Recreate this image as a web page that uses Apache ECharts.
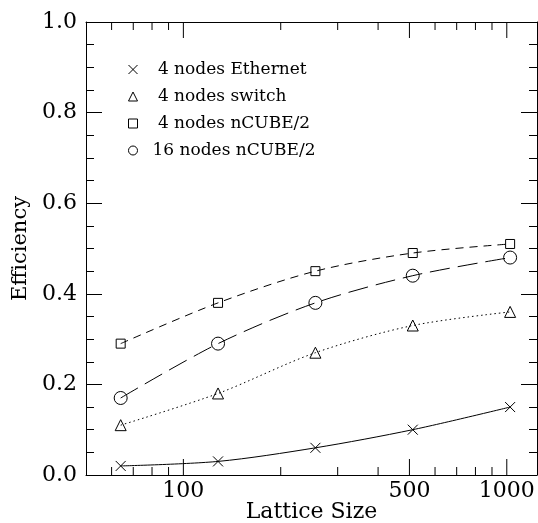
<!DOCTYPE html>
<html>
<head>
<meta charset="utf-8">
<script src="https://cdn.jsdelivr.net/npm/echarts@6/dist/echarts.min.js"></script>
<style>
  html, body { margin: 0; padding: 0; background: #fff; }
  #chart { width: 538px; height: 523px; }
</style>
</head>
<body>
<div id="chart"></div>
<script>
// lattice sizes (x, log scale)
const latticeSizes = [64, 128, 256, 512, 1024];

// efficiency values per configuration
const ethernet4 = [0.02, 0.03, 0.06, 0.10, 0.15];
const switch4 = [0.11, 0.18, 0.27, 0.33, 0.36];
const ncube4 = [0.29, 0.38, 0.45, 0.49, 0.51];
const ncube16 = [0.17, 0.29, 0.38, 0.44, 0.48];

// x ticks for the log axis
const xTicks = [60, 70, 80, 90, 100, 200, 300, 400, 500, 600, 700, 800, 900, 1000];
const xMajor = [100, 500, 1000];

const FONT = 'DejaVu Serif';
const crossPath = 'path://M0,0L10,10M10,0L0,10';

const chart = echarts.init(document.getElementById('chart'), null, { renderer: 'canvas' });

const pts = (ys) => latticeSizes.map((x, i) => [x, ys[i]]);

const lineSeries = (name, ys, symbol, size, type) => ({
  name,
  type: 'line',
  data: pts(ys),
  smooth: 0.3,
  symbol,
  symbolSize: size,
  itemStyle: { color: 'rgba(0,0,0,0)', borderColor: '#000', borderWidth: 1 },
  lineStyle: { color: '#000', width: 1, type },
  emphasis: { disabled: true },
  z: 3,
});

const option = {
  backgroundColor: '#fff',
  animation: false,
  grid: { left: 86, right: 1, top: 22, bottom: 48, outerBoundsMode: 'none' },
  xAxis: [
    {
      type: 'log',
      min: 50,
      max: 1240,
      name: 'Lattice Size',
      nameLocation: 'middle',
      nameGap: 26,
      nameTextStyle: { fontFamily: FONT, fontSize: 22, color: '#000' },
      axisLine: { show: true, lineStyle: { color: '#000', width: 1 } },
      axisTick: { show: false },
      axisLabel: { show: false },
      splitLine: { show: false },
    },
    {
      type: 'log',
      position: 'top',
      min: 50,
      max: 1240,
      axisLine: { show: true, onZero: false, lineStyle: { color: '#000', width: 1 } },
      axisTick: { show: false },
      axisLabel: { show: false },
      splitLine: { show: false },
    },
  ],
  yAxis: [
    {
      type: 'value',
      min: 0,
      max: 1,
      interval: 0.2,
      name: 'Efficiency',
      nameLocation: 'middle',
      nameRotate: 90,
      nameGap: 54,
      nameTextStyle: { fontFamily: FONT, fontSize: 21, color: '#000' },
      axisLine: { show: true, lineStyle: { color: '#000', width: 1 } },
      axisTick: { show: true, inside: true, length: 16, lineStyle: { color: '#000' } },
      minorTick: { show: true, splitNumber: 4, length: 8, lineStyle: { color: '#000' } },
      axisLabel: {
        fontFamily: FONT,
        fontSize: 22,
        color: '#000',
        margin: 9,
        formatter: (v) => v.toFixed(1),
      },
      splitLine: { show: false },
      minorSplitLine: { show: false },
    },
    {
      type: 'value',
      position: 'right',
      min: 0,
      max: 1,
      interval: 0.2,
      axisLine: { show: true, lineStyle: { color: '#000', width: 1 } },
      axisTick: { show: true, inside: true, length: 16, lineStyle: { color: '#000' } },
      minorTick: { show: true, splitNumber: 4, length: 8, lineStyle: { color: '#000' } },
      axisLabel: { show: false },
      splitLine: { show: false },
    },
  ],
  legend: {
    orient: 'vertical',
    left: 123,
    top: 56,
    itemWidth: 9,
    itemHeight: 9,
    itemGap: 10,
    selectedMode: false,
    itemStyle: { color: 'rgba(0,0,0,0)', borderColor: '#000', borderWidth: 1 },
    textStyle: { fontFamily: FONT, fontSize: 17, color: '#000', lineHeight: 17, padding: [0, 0, 0, 10] },
    formatter: (name) => (name.startsWith('16') ? name : '\u00a0' + name),
    data: [
      { name: '4 nodes Ethernet', icon: crossPath },
      { name: '4 nodes switch', icon: 'triangle' },
      { name: '4 nodes nCUBE/2', icon: 'rect' },
      { name: '16 nodes nCUBE/2', icon: 'circle' },
    ],
  },
  series: [
    lineSeries('4 nodes Ethernet', ethernet4, crossPath, 10, 'solid'),
    lineSeries('4 nodes switch', switch4, 'triangle', 11, [1.5, 3]),
    lineSeries('4 nodes nCUBE/2', ncube4, 'rect', 9, [8, 6]),
    lineSeries('16 nodes nCUBE/2', ncube16, 'circle', 13, [20, 8]),
    {
      type: 'custom',
      silent: true,
      clip: false,
      data: xTicks.map((v) => [v, 0]),
      encode: { x: 0, y: 1 },
      renderItem: (params, api) => {
        const v = api.value(0);
        const b = api.coord([v, 0]);
        const t = api.coord([v, 1]);
        const major = xMajor.includes(v);
        const len = major ? 16 : 8;
        const stroke = { stroke: '#000', lineWidth: 1 };
        const children = [
          { type: 'line', shape: { x1: b[0], y1: b[1], x2: b[0], y2: b[1] - len }, style: stroke },
          { type: 'line', shape: { x1: t[0], y1: t[1], x2: t[0], y2: t[1] + len }, style: stroke },
        ];
        if (major) {
          children.push({
            type: 'text',
            x: b[0],
            y: b[1] + 5,
            style: {
              text: String(v),
              font: '22px "' + FONT + '"',
              fill: '#000',
              align: 'center',
              verticalAlign: 'top',
            },
          });
        }
        return { type: 'group', children };
      },
      z: 2,
    },
  ],
};

chart.setOption(option);
</script>
</body>
</html>
